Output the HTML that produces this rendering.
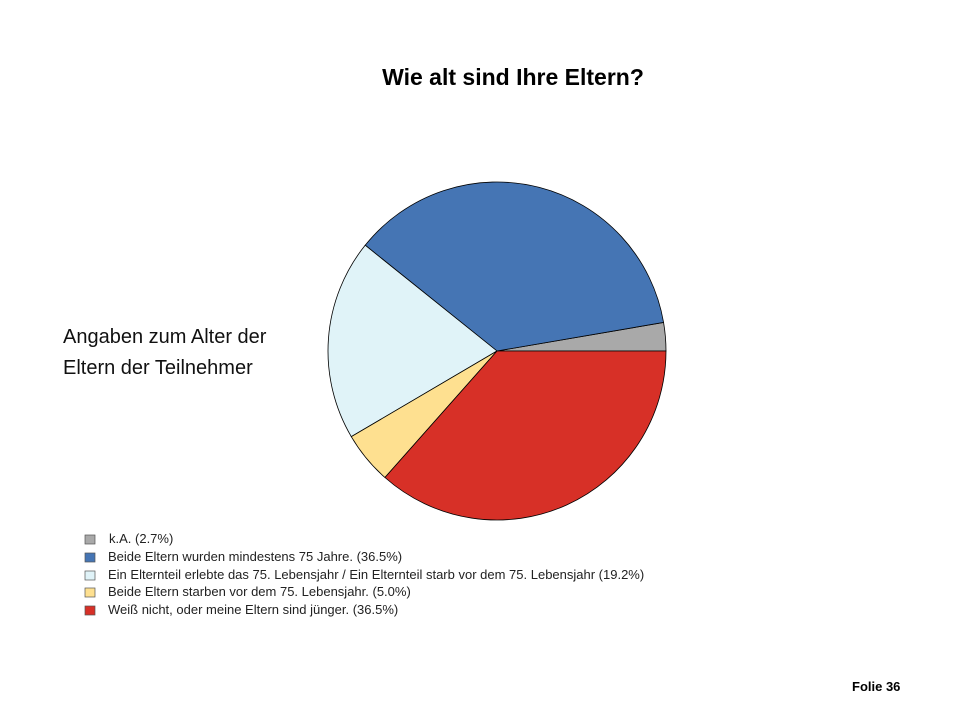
<!DOCTYPE html>
<html><head><meta charset="utf-8"><style>
body{margin:0;width:960px;height:720px;background:#fff;position:relative;overflow:hidden;font-family:"Liberation Sans",sans-serif}
.t{position:absolute;white-space:nowrap}
</style></head><body>
<div class="t" style="left:0;width:1026px;text-align:center;top:64px;font-size:23px;font-weight:bold;color:#000">Wie alt sind Ihre Eltern?</div>
<div class="t" style="left:63px;top:322px;font-size:20px;line-height:31px;color:#111">Angaben zum Alter der<br>Eltern der Teilnehmer</div>
<svg id="pie" width="960" height="720" style="position:absolute;left:0;top:0"></svg>
<div class="t" style="left:852px;top:679px;font-size:13px;font-weight:bold">Folie 36</div>
<script>
const labels=["k.A.","Beide Eltern wurden mindestens 75 Jahre.","Ein Elternteil erlebte das 75. Lebensjahr / Ein Elternteil starb vor dem 75. Lebensjahr","Beide Eltern starben vor dem 75. Lebensjahr.","Weiß nicht, oder meine Eltern sind jünger."];
const values=[2.7,36.5,19.2,5.0,36.5];
const colors=["#a9a9a9","#4575b4","#e0f3f8","#fee090","#d73027"];
const svg=document.getElementById('pie');
const NS='http://www.w3.org/2000/svg';
const cx=497,cy=351,r=169;
const total=values.reduce((a,b)=>a+b,0);
let a0=0;
values.forEach((v,i)=>{
  const a1=a0+v/total*2*Math.PI;
  const x0=cx+r*Math.cos(a0),y0=cy-r*Math.sin(a0);
  const x1=cx+r*Math.cos(a1),y1=cy-r*Math.sin(a1);
  const large=(a1-a0)>Math.PI?1:0;
  const p=document.createElementNS(NS,'path');
  p.setAttribute('d',`M${cx},${cy}L${x0},${y0}A${r},${r} 0 ${large} 0 ${x1},${y1}Z`);
  p.setAttribute('fill',colors[i]);p.setAttribute('stroke','#000');p.setAttribute('stroke-width','0.8');
  
  
  svg.appendChild(p);
  a0=a1;
});
const ys=[538,556,574,591,609];
values.forEach((v,i)=>{
  const g=document.createElementNS(NS,'g');
  
  
  const rc=document.createElementNS(NS,'rect');
  rc.setAttribute('x',85);rc.setAttribute('y',ys[i]-3);rc.setAttribute('width',10);rc.setAttribute('height',9);
  rc.setAttribute('fill',colors[i]);rc.setAttribute('stroke','#555');rc.setAttribute('stroke-width','0.7');
  const t=document.createElementNS(NS,'text');
  t.setAttribute('x',i==0?109:108);t.setAttribute('y',ys[i]+5);
  t.setAttribute('font-size','13');t.setAttribute('font-family','Liberation Sans, sans-serif');t.setAttribute('fill','#222');
  t.textContent=labels[i]+' ('+v.toFixed(1)+'%)';
  g.appendChild(rc);g.appendChild(t);svg.appendChild(g);
});
</script>
</body></html>
